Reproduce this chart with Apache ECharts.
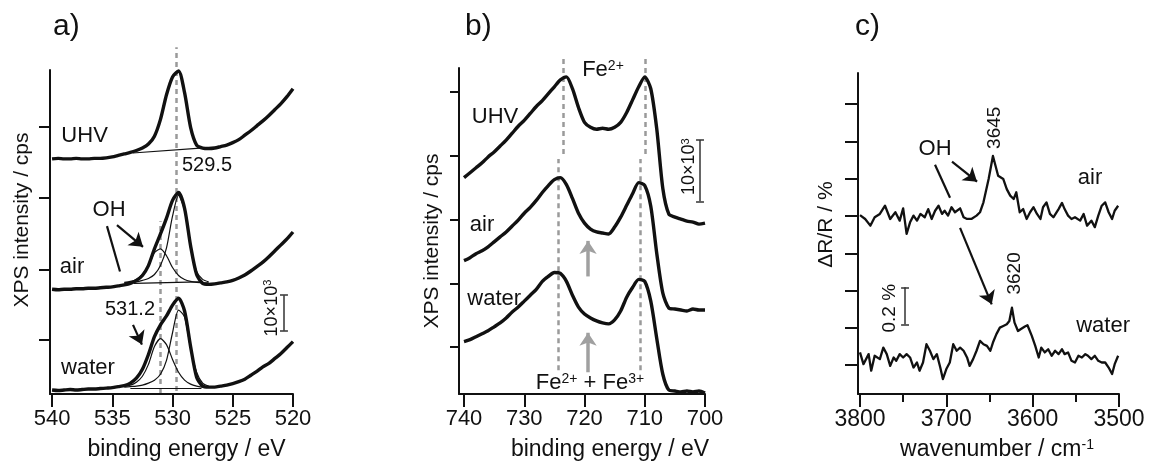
<!DOCTYPE html>
<html><head><meta charset="utf-8">
<script src="https://cdn.jsdelivr.net/npm/echarts@6/dist/echarts.min.js"></script>
<style>html,body{margin:0;padding:0;background:#fff}#chart{width:1150px;height:466px}</style>
</head><body><div id="chart"></div>
<script>
// ---------------- Panel a: O 1s XPS ----------------
const A_E = [540,539.5,539,538.5,538,537.5,537,536.5,536,535.5,535,534.5,534,533.5,533,532.5,532,531.5,531,530.5,530,529.5,529,528.5,528,527.5,527,526.5,526,525.5,525,524.5,524,523.5,523,522.5,522,521.5,521,520.5,520];
const A_UHV = [238,238.5,238,238,238.5,238,238,238.5,238.5,239,240,241.5,243,244.5,246.5,249,253,261,278,303,321,327,305,270,252,249,248.5,249,250.5,252,254.5,257.5,262,266.5,271.5,276.5,282,288,294,301,309];
const A_AIR = [106,105.5,106,106,106.5,106.5,107,107,107.5,108,108.5,109.5,110.5,112,115,120,130,147,162,178,196,204,188,150,121,112,111,111.5,112.5,113.5,115,117.5,120.5,124.5,129,133.5,139,145,151,157,164];
const A_WATER = [4,3.5,4,4.5,4,4.5,5,5,5.5,6,6.5,7.5,8.5,11,16,25,40,58,70,79,90,97,84,48,17,8,7,7,8,9,10.5,12.5,15,19,23,27.5,31,36,41,47,53];
// fit components
const A_FIT_E = [534,533.5,533,532.5,532,531.5,531,530.5,530,529.5,529,528.5,528,527.5,527];
const A_AIR_OH = [113,114,116,121,130,143,147,140,128,120,116,114,113,112.5,112.5];
const A_AIR_MAIN = [112.5,113,113.5,115,117,121,130,148,180,201,186,148,124,116,113.5];
const A_WATER_OH = [8,9,12,18,30,48,56,50,35,22,14,10,8,7,7];
const A_WATER_MAIN = [7,7.5,8,9,11,14,20,34,62,85,78,46,22,11,8];
const A_BASE_UHV = [[533.3,244],[527.7,249]];
const A_BASE_AIR = [[533.2,112],[527.8,113.5]];
const A_BASE_WATER = [[533.5,6],[527.6,6]];
const A_XTICKS = [520,525,530,535,540];
const A_YTICKS = [55,126,199,271];
const A_PEAKS = [[529.65,3,351],[531.05,1,175]];

// ---------------- Panel b: Fe 2p XPS ----------------
const B_E = [740,739,738,737,736,735,734,733,732,731,730,729,728,727,726,725,724,723,722,721,720,719,718,717,716,715,714,713,712,711,710,709,708,707,706,705,704,703,702,701,700];
const B_UHV = [219,224,229,234,240,245,251,257,264,271,277,284,291,297,304,311,318,321,309,290,275,270,268,269,268,270,275,285,298,311,321,309,268,208,182,179,177,175,174,172,173];
const B_AIR = [135,138,142,145,149,154,159,164,170,176,183,189,196,204,211,217,219,212,198,183,173,167,164,163,162,169,179,191,203,214,211,190,142,102,87,86,85,84,86,85,85];
const B_WATER = [53,55,58,61,64,68,72,77,83,88,94,100,106,114,119,123,122,114,100,88,81,77,74,72,71,75,84,98,108,116,114,94,56,20,4,3,2,3,2,3,1];
const B_XTICKS = [700,710,720,730,740];
const B_YTICKS = [48,112,176,241,306];
const B_PEAKS = [[723.5,243,341],[709.96,243,341],[724.3,24,238],[710.8,24,238]];

// ---------------- Panel c: IRAS ----------------
const C_AIR_K = [3800,3794,3788,3783,3777,3771,3765,3759,3754,3750,3746,3742,3738,3734,3730,3725,3721,3717,3713,3709,3705,3702,3698,3694,3690,3684,3680,3676,3671,3665,3661,3657,3651,3646,3640,3634,3630,3626,3622,3619,3615,3611,3607,3603,3599,3595,3591,3588,3584,3580,3576,3570,3566,3563,3559,3555,3551,3545,3541,3537,3532,3528,3524,3520,3516,3512,3508,3505,3501];
const C_AIR_V = [0.805,0.784,0.748,0.793,0.811,0.855,0.784,0.820,0.775,0.841,0.704,0.766,0.802,0.775,0.811,0.793,0.837,0.784,0.828,0.855,0.811,0.828,0.802,0.847,0.820,0.841,0.793,0.784,0.784,0.802,0.820,0.873,0.998,1.122,1.016,0.998,0.944,0.909,0.891,0.927,0.820,0.837,0.784,0.820,0.847,0.811,0.784,0.847,0.873,0.811,0.793,0.837,0.870,0.837,0.802,0.784,0.793,0.775,0.811,0.748,0.775,0.740,0.802,0.855,0.873,0.820,0.784,0.828,0.855];
const C_WATER_K = [3800,3796,3790,3787,3783,3777,3773,3769,3765,3761,3758,3754,3750,3746,3742,3738,3734,3731,3727,3723,3719,3715,3711,3707,3704,3700,3696,3692,3688,3684,3680,3676,3673,3669,3665,3661,3657,3653,3649,3646,3642,3638,3634,3630,3627,3624,3621,3617,3614,3609,3606,3601,3597,3593,3590,3586,3582,3578,3574,3570,3566,3563,3559,3555,3551,3547,3543,3539,3536,3532,3528,3524,3520,3516,3512,3508,3505,3501];
const C_WATER_V = [0.068,0.005,0.059,-0.030,0.050,0.032,0.094,0.059,-0.004,0.041,0.023,0.059,0.041,0.059,0.041,-0.013,0.014,-0.030,0.014,0.112,0.077,0.032,0.059,-0.013,-0.075,-0.021,0.014,0.112,0.077,0.094,0.077,0.041,-0.004,0.032,0.077,0.130,0.112,0.103,0.077,0.121,0.166,0.201,0.210,0.219,0.237,0.308,0.228,0.183,0.192,0.207,0.214,0.157,0.103,0.041,0.094,0.068,0.085,0.050,0.077,0.059,0.085,0.059,0.068,0.023,0.014,0.050,0.041,0.059,0.050,0.032,0.050,0.023,0.014,0.014,-0.013,-0.048,0.005,0.050];
const C_XTICKS = [3500,3600,3700,3800];
const C_XMINOR = [3550,3650,3750];
const C_YTICKS = [0,0.2,0.4,0.6,0.8,1.0,1.2,1.4];

// ---------------- annotations (data coordinates) ----------------
const A_TEXT = [['UHV',537.3,261,0,22],['529.5',527.14,231,0,20],['OH',535.27,186,0,22],['air',538.34,129,0,22],['531.2',533.53,86,0,20],['water',537.02,26,0,22],['10×10{s|3}',521.75,87,90,18]];
const B_TEXT = [['UHV',734.86,280,0,22],['Fe{s|2+}',716.93,328,0,22],['air',737.0,171,0,22],['water',734.99,96,0,22],['Fe{s|2+} + Fe{s|3+}',719.09,11,0,22],['10×10{s|3}',702.66,230,90,18]];
const C_TEXT = [['OH',3713.1,1.16,0,22],['3645',3644.1,1.273,90,19],['air',3533.5,1.005,0,22],['3620',3621.0,0.492,90,19],['water',3518.4,0.209,0,22],['0.2 %',3765.2,0.305,90,19]];
const A_ARROWS = [[[534.61,171],[532.45,149]],[[533.28,70],[532.54,50]]];
const A_STROKES = [[[535.44,170],[534.36,124]]];
const B_ARROWS = [[[719.41,119],[719.41,155]],[[719.41,22],[719.41,62]]];
const C_ARROWS = [[[3693.4,1.091],[3664.4,0.984]],[[3684.1,0.736],[3647.4,0.326]]];
const C_STROKES = [[[3713.1,1.075],[3695.7,0.898]]];
const A_SCALE = [[[520.75,64],[520.75,100]],[[521.08,64],[520.42,64]],[[521.08,100],[520.42,100]]];
const B_SCALE = [[[700.83,195],[700.83,257]],[[701.49,195],[700.17,195]],[[701.49,257],[700.17,257]]];
const C_SCALE = [[[3747.8,0.219],[3747.8,0.417]],[[3752.4,0.219],[3743.2,0.219]],[[3752.4,0.417],[3743.2,0.417]]];

const FONT = "'Liberation Sans', Arial, Helvetica, sans-serif";
const INK = '#111';
const TXT = '#111';
const GREY = '#9a9a9a';

function zip(xs, ys) { return xs.map((x, i) => [x, ys[i]]); }
function curve(xi, yi, data, width, z) {
  return {type:'line', xAxisIndex:xi, yAxisIndex:yi, data:data, showSymbol:false, symbol:'none',
    smooth:0.25, clip:false, silent:true, z:z, lineStyle:{color:INK, width:width}};
}
function jagged(xi, yi, data) {
  return {type:'line', xAxisIndex:xi, yAxisIndex:yi, data:data, showSymbol:false, symbol:'none',
    smooth:false, clip:false, silent:true, z:3, lineStyle:{color:INK, width:2.3, join:'round'}};
}
function segs(xi, yi, list, style, sym, z) {
  return {type:'lines', coordinateSystem:'cartesian2d', xAxisIndex:xi, yAxisIndex:yi, clip:false, silent:true,
    symbol:sym || ['none','none'], symbolSize:[0,13], z:z || 4, lineStyle:Object.assign({opacity:1}, style),
    data:list.map(c => ({coords:c}))};
}
function dashes(xi, yi, list) {
  return segs(xi, yi, list.map(p => [[p[0], p[1]], [p[0], p[2]]]), {color:GREY, width:2.5, type:[5,4]}, null, 2);
}
function texts(xi, yi, list) {
  return {type:'scatter', xAxisIndex:xi, yAxisIndex:yi, clip:false, silent:true, symbolSize:1, z:10,
    itemStyle:{color:'rgba(0,0,0,0)'},
    data:list.map(t => ({value:[t[1], t[2]], label:{show:true, position:'inside', formatter:() => t[0],
      rotate:t[3], fontSize:t[4], color:TXT, opacity:1, textBorderWidth:0, textBorderColor:'transparent',
      fontFamily:FONT,
      rich:{s:{fontSize:Math.round(t[4]*0.62), verticalAlign:'top', color:TXT, textBorderWidth:0, fontFamily:FONT}}}}))};
}
function axLine() { return {show:true, onZero:false, lineStyle:{color:INK, width:2}}; }
function xAx(gi, min, max, ticks, name, fs, padL, gap) {
  return {gridIndex:gi, type:'value', inverse:true, min:min, max:max, position:'bottom',
    axisLine:axLine(),
    axisTick:{show:true, length:13, customValues:ticks, lineStyle:{color:INK, width:2}},
    axisLabel:{show:true, customValues:ticks, fontSize:fs, color:TXT, margin:14, fontFamily:FONT,
      formatter:v => String(v)},
    splitLine:{show:false},
    name:name, nameLocation:'middle', nameGap:gap,
    nameTextStyle:{fontSize:23, color:TXT, fontFamily:FONT, padding:[0,0,0,padL],
      rich:{s:{fontSize:14, verticalAlign:'top', color:TXT, fontFamily:FONT}}}};
}
function yAx(gi, min, max, ticks, len, name, gap, pad) {
  return {gridIndex:gi, type:'value', min:min, max:max,
    axisLine:axLine(),
    axisTick:{show:true, length:len, customValues:ticks, lineStyle:{color:INK, width:2}},
    axisLabel:{show:false}, splitLine:{show:false},
    name:name, nameLocation:'middle', nameGap:gap, nameRotate:90,
    nameTextStyle:{fontSize:21, color:TXT, fontFamily:FONT, padding:pad}};
}

const option = {
  animation:false,
  textStyle:{fontFamily:FONT},
  title:[
    {text:'a)', left:53, top:12, padding:0, textStyle:{fontSize:30, fontWeight:'normal', color:TXT, fontFamily:FONT}},
    {text:'b)', left:465, top:12, padding:0, textStyle:{fontSize:30, fontWeight:'normal', color:TXT, fontFamily:FONT}},
    {text:'c)', left:855, top:12, padding:0, textStyle:{fontSize:30, fontWeight:'normal', color:TXT, fontFamily:FONT}}
  ],
  grid:[
    {left:50, top:70, width:243, height:328},
    {left:459, top:68, width:246, height:330},
    {left:858, top:73, width:261, height:322}
  ],
  xAxis:[
    xAx(0, 520, 540.17, A_XTICKS, 'binding energy / eV', 22, 30, 44),
    xAx(1, 700, 740.83, B_XTICKS, 'binding energy / eV', 22, 56, 44),
    xAx(2, 3500, 3802.3, C_XTICKS, 'wavenumber / cm{s|-1}', 23, 17, 44),
    {gridIndex:2, type:'value', inverse:true, min:3500, max:3802.3, position:'bottom',
      axisLine:{show:false, onZero:false}, axisTick:{show:true, length:8, customValues:C_XMINOR, lineStyle:{color:INK, width:2}},
      axisLabel:{show:false}, splitLine:{show:false}}
  ],
  yAxis:[
    yAx(0, 0, 328, A_YTICKS, 11, 'XPS intensity / cps', 17, [0,0,0,24]),
    yAx(1, 0, 330, B_YTICKS, 9, 'XPS intensity / cps', 16, [0,20,0,0]),
    yAx(2, -0.155, 1.567, C_YTICKS, 13, 'ΔR/R / %', 21, [0,0,0,18])
  ],
  series:[
    // panel a
    dashes(0, 0, A_PEAKS),
    curve(0, 0, zip(A_FIT_E, A_AIR_OH), 1.2, 2),
    curve(0, 0, zip(A_FIT_E, A_AIR_MAIN), 1.2, 2),
    curve(0, 0, zip(A_FIT_E, A_WATER_OH), 1.2, 2),
    curve(0, 0, zip(A_FIT_E, A_WATER_MAIN), 1.2, 2),
    segs(0, 0, [A_BASE_UHV, A_BASE_AIR, A_BASE_WATER], {color:INK, width:1.2}, null, 2),
    curve(0, 0, zip(A_E, A_UHV), 3.4, 3),
    curve(0, 0, zip(A_E, A_AIR), 3.4, 3),
    curve(0, 0, zip(A_E, A_WATER), 3.4, 3),
    segs(0, 0, A_ARROWS, {color:INK, width:2.2}, ['none','arrow']),
    segs(0, 0, A_STROKES, {color:INK, width:2.2}),
    segs(0, 0, A_SCALE, {color:'#333', width:1.5}),
    texts(0, 0, A_TEXT),
    // panel b
    dashes(1, 1, B_PEAKS),
    curve(1, 1, zip(B_E, B_UHV), 3.4, 3),
    curve(1, 1, zip(B_E, B_AIR), 3.4, 3),
    curve(1, 1, zip(B_E, B_WATER), 3.4, 3),
    segs(1, 1, B_ARROWS, {color:'#a0a0a0', width:3.5}, ['none','arrow']),
    segs(1, 1, B_SCALE, {color:'#333', width:1.5}),
    texts(1, 1, B_TEXT),
    // panel c
    jagged(2, 2, zip(C_AIR_K, C_AIR_V)),
    jagged(2, 2, zip(C_WATER_K, C_WATER_V)),
    segs(2, 2, C_ARROWS, {color:INK, width:2.2}, ['none','arrow']),
    segs(2, 2, C_STROKES, {color:INK, width:2.2}),
    segs(2, 2, C_SCALE, {color:'#333', width:1.5}),
    texts(2, 2, C_TEXT)
  ]
};
const chart = echarts.init(document.getElementById('chart'), null, {renderer:'canvas'});
chart.setOption(option);
</script></body></html>
